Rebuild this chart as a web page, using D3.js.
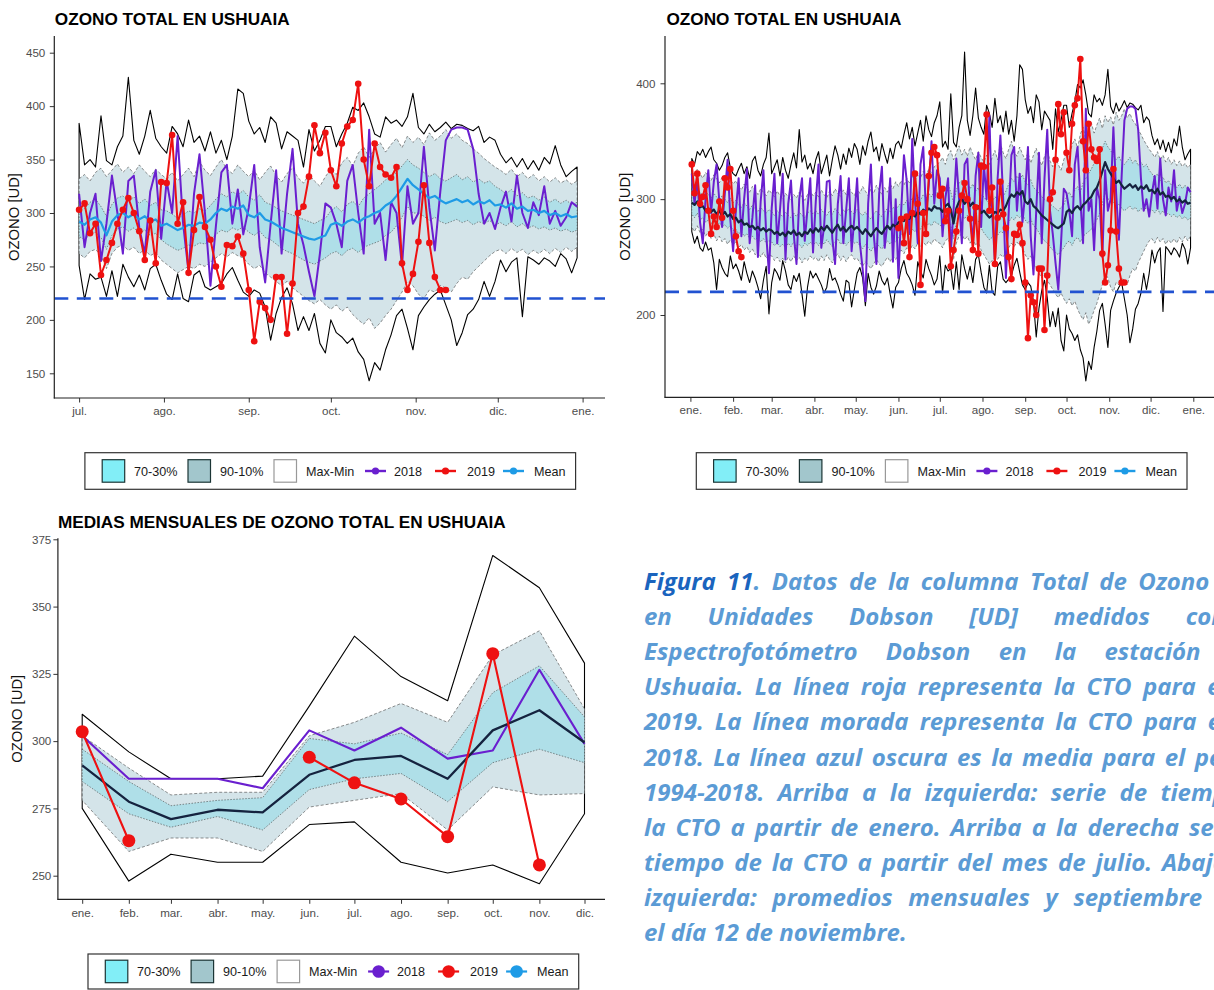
<!DOCTYPE html>
<html>
<head>
<meta charset="utf-8">
<script src="https://cdn.jsdelivr.net/npm/d3@7"></script>
<style>
  html, body { margin: 0; padding: 0; background: #fff; overflow: hidden; }
  svg { display: block; }
</style>
</head>
<body>
<svg id="fig" width="1214" height="990"></svg>
<script>
// ---------------------------------------------------------------
// Total ozone column at Ushuaia, Dobson units.
// Daily series: one value every second day (Jan 2, Jan 4, ... Dec 30).
// ---------------------------------------------------------------
const dailyMax = [
  335, 330, 341, 338, 343, 336, 341, 345, 334, 331, 325, 329, 336, 340, 327,
  322, 320, 326, 331, 322, 328, 318, 333, 337, 325, 320, 330, 336, 357,
  322, 328, 334, 320, 336, 325, 318, 330, 340, 327, 360, 332, 338, 326, 331, 322,
  334, 341, 322, 330, 338, 320, 334, 346, 338, 326, 339, 330, 344, 336, 348,
  343, 330, 346, 338, 350, 358, 341, 345, 333, 348, 339, 331, 344, 335, 347,
  350, 344, 356, 366, 352, 362, 346, 357, 368, 350, 372, 360, 354, 366, 372,
  384, 345, 350, 343, 391, 349, 345, 362, 372, 427, 368, 355, 372, 396, 370, 362,
  356, 381, 374, 362, 387, 366, 372, 358, 376, 356, 368, 350, 372, 416, 412,
  386, 374, 380, 366, 390, 384, 360, 376, 372, 368, 343, 378, 358, 368, 381,
  381, 362, 374, 384, 399, 396, 403, 390, 374, 371, 390, 384, 387, 381, 390, 412,
  380, 374, 383, 376, 380, 385, 379, 383, 382, 379, 377, 381, 366, 371, 368,
  355, 347, 352, 343, 351, 341, 349, 340, 352, 346, 363, 345, 334, 339, 343
];
const dailyP90 = [
  324, 320, 326, 322, 318, 323, 320, 316, 321, 318, 314, 319, 316, 312, 317,
  313, 316, 311, 308, 313, 310, 306, 311, 308, 304, 309, 306, 303, 308,
  305, 302, 307, 303, 300, 305, 302, 299, 304, 301, 306, 302, 299, 304, 307, 303,
  306, 302, 308, 304, 301, 307, 303, 309, 305, 302, 308, 304, 310, 306, 303,
  309, 305, 311, 307, 303, 309, 305, 312, 308, 304, 310, 306, 313, 309, 315,
  311, 316, 312, 318, 314, 320, 316, 322, 318, 324, 320, 326, 322, 328, 330,
  332, 336, 330, 338, 342, 334, 340, 346, 338, 343, 337, 345, 339, 334, 341, 336,
  332, 338, 330, 336, 342, 334, 348, 340, 335, 343, 350, 341, 337, 345, 339,
  334, 340, 331, 338, 344, 335, 329, 337, 342, 333, 328, 336, 330, 325, 334,
  341, 336, 347, 352, 344, 356, 362, 352, 360, 366, 357, 364, 370, 361, 372, 366,
  371, 364, 375, 368, 372, 378, 370, 374, 368, 365, 360, 356, 351, 347, 343,
  340, 336, 341, 334, 338, 332, 336, 330, 334, 329, 333, 328, 331, 327, 330
];
const dailyP70 = [
  308, 305, 309, 306, 303, 307, 304, 301, 305, 302, 299, 303, 300, 297, 301,
  297, 299, 295, 293, 297, 294, 291, 295, 292, 289, 293, 290, 288, 291,
  289, 286, 290, 287, 285, 289, 286, 284, 288, 285, 289, 286, 284, 288, 290, 287,
  290, 287, 291, 288, 286, 290, 287, 292, 289, 286, 291, 288, 292, 289, 287,
  291, 288, 286, 289, 285, 283, 287, 290, 287, 285, 289, 292, 289, 293, 291,
  294, 297, 295, 299, 296, 301, 298, 302, 299, 304, 301, 305, 302, 307, 305,
  308, 304, 310, 313, 306, 297, 308, 314, 316, 311, 315, 309, 313, 307, 310, 303,
  302, 299, 295, 298, 302, 300, 304, 302, 307, 313, 318, 315, 320, 317, 321,
  315, 312, 317, 310, 308, 305, 302, 300, 298, 296, 294, 292, 290, 293, 295,
  302, 306, 301, 308, 311, 306, 314, 318, 322, 326, 331, 334, 338, 344, 350, 345,
  342, 338, 334, 337, 332, 330, 333, 336, 331, 334, 329, 332, 328, 330, 325,
  322, 318, 322, 316, 319, 314, 316, 312, 315, 310, 313, 309, 312, 308, 310
];
const dailyMean = [
  297, 295, 298, 293, 294, 290, 292, 289, 291, 287, 290, 286, 289, 285, 287,
  283, 284, 280, 282, 278, 279, 276, 277, 274, 276, 273, 275, 272, 274,
  273, 270, 272, 269, 271, 268, 272, 270, 273, 269, 271, 268, 272, 270, 274, 271,
  275, 272, 276, 273, 277, 274, 271, 275, 278, 273, 276, 272, 275, 277, 274,
  276, 273, 270, 274, 271, 268, 272, 275, 272, 270, 274, 277, 274, 278, 276,
  280, 283, 281, 285, 283, 287, 285, 289, 287, 291, 289, 292, 290, 294, 292,
  292, 289, 294, 296, 291, 279, 292, 298, 300, 296, 299, 294, 297, 292, 294, 288,
  290, 287, 284, 286, 289, 288, 291, 290, 294, 300, 304, 302, 306, 304, 307,
  298, 296, 300, 294, 292, 289, 286, 284, 282, 280, 278, 276, 275, 277, 279,
  289, 291, 288, 292, 294, 291, 295, 297, 300, 302, 307, 310, 316, 324, 332, 326,
  322, 318, 314, 316, 312, 309, 311, 313, 310, 312, 308, 311, 309, 312, 307,
  308, 305, 309, 304, 306, 302, 303, 300, 302, 298, 300, 297, 299, 296, 297
];
const dailyP30 = [
  287, 284, 288, 282, 284, 280, 282, 279, 281, 277, 280, 276, 278, 275, 277,
  273, 274, 270, 272, 268, 270, 266, 268, 265, 267, 263, 266, 262, 264,
  263, 260, 262, 259, 261, 258, 262, 259, 263, 259, 261, 258, 262, 260, 263, 260,
  263, 260, 264, 261, 265, 262, 259, 263, 266, 261, 264, 260, 263, 265, 262,
  263, 260, 257, 261, 258, 255, 259, 262, 259, 257, 261, 264, 261, 265, 263,
  267, 270, 268, 272, 270, 274, 272, 276, 274, 278, 276, 279, 277, 281, 279,
  278, 275, 280, 282, 277, 266, 279, 285, 287, 283, 286, 281, 284, 279, 281, 275,
  271, 268, 265, 267, 270, 269, 272, 271, 275, 280, 284, 282, 286, 284, 287,
  282, 279, 283, 277, 275, 271, 267, 264, 262, 259, 256, 254, 252, 255, 258,
  262, 264, 260, 265, 267, 263, 268, 270, 272, 274, 279, 282, 288, 296, 306, 300,
  300, 297, 293, 296, 292, 290, 292, 294, 291, 293, 289, 292, 290, 293, 289,
  291, 288, 292, 287, 290, 286, 288, 285, 287, 284, 286, 283, 285, 282, 284
];
const dailyP10 = [
  276, 272, 277, 271, 274, 268, 272, 266, 270, 264, 268, 263, 266, 261, 265,
  261, 263, 258, 261, 256, 259, 254, 257, 252, 255, 250, 254, 249, 252,
  251, 247, 250, 246, 249, 245, 250, 246, 251, 247, 250, 245, 249, 247, 251, 248,
  250, 246, 251, 247, 252, 248, 245, 250, 253, 247, 251, 246, 250, 252, 248,
  249, 245, 242, 246, 243, 240, 244, 248, 244, 242, 246, 250, 246, 251, 248,
  252, 256, 253, 258, 255, 260, 257, 262, 259, 263, 260, 264, 261, 266, 263,
  262, 258, 264, 266, 260, 248, 262, 268, 270, 265, 268, 262, 266, 260, 263, 256,
  252, 248, 244, 247, 250, 248, 252, 250, 254, 258, 262, 259, 263, 260, 258,
  252, 248, 251, 244, 240, 236, 232, 236, 230, 226, 222, 218, 215, 219, 214,
  210, 214, 208, 212, 205, 200, 196, 202, 192, 197, 204, 210, 218, 226, 236, 232,
  224, 220, 228, 226, 232, 230, 226, 234, 240, 238, 245, 250, 255, 260, 264,
  266, 262, 267, 263, 266, 261, 265, 262, 266, 262, 267, 263, 268, 264, 268
];
const dailyMin = [
  272, 262, 268, 258, 255, 263, 256, 258, 245, 222, 248, 241, 236, 233, 251,
  240, 244, 238, 230, 246, 236, 228, 238, 232, 224, 214, 230, 242, 201,
  228, 240, 236, 230, 247, 238, 226, 222, 234, 229, 236, 218, 199, 224, 238, 232,
  236, 231, 226, 219, 224, 240, 230, 232, 226, 218, 212, 230, 228, 207, 222,
  236, 241, 232, 208, 236, 224, 218, 225, 238, 230, 226, 232, 218, 206, 224,
  228, 240, 247, 236, 232, 226, 217, 246, 238, 232, 248, 240, 234, 226, 231,
  251, 219, 243, 238, 240, 222, 246, 222, 252, 240, 231, 242, 228, 248, 252, 237,
  224, 219, 243, 220, 217, 242, 246, 231, 228, 231, 234, 243, 249, 237, 226,
  222, 228, 225, 212, 181, 206, 221, 230, 215, 190, 203, 190, 206, 178, 169,
  200, 188, 184, 178, 183, 170, 163, 143, 160, 153, 172, 186, 204, 210, 192, 172,
  204, 212, 219, 224, 228, 214, 200, 176, 188, 205, 210, 219, 236, 222, 236,
  256, 245, 254, 258, 203, 259, 256, 252, 258, 255, 250, 262, 257, 244, 258
];
const daily2018 = [
  322, 296, 318, 280, 262, 300, 325, 288, 315, 330, 298, 276, 305, 334, 282,
  255, 290, 318, 268, 300, 326, 262, 284, 312, 250, 298, 325, 270, 236,
  292, 322, 262, 290, 322, 248, 296, 316, 270, 244, 300, 318, 264, 292, 318, 254,
  298, 330, 258, 276, 315, 316, 266, 244, 296, 320, 262, 290, 318, 255, 284,
  318, 262, 240, 212, 296, 330, 270, 244, 305, 328, 258, 280, 318, 246, 300,
  232, 290, 338, 316, 270, 352, 300, 262, 330, 345, 288, 312, 350, 296, 325,
  318, 268, 300, 318, 255, 290, 335, 300, 262, 330, 335, 286, 262, 320, 340, 276,
  330, 300, 372, 290, 245, 318, 355, 300, 232, 288, 338, 345, 290, 322, 280,
  305, 345, 268, 235, 290, 340, 262, 318, 360, 290, 270, 245, 222, 262, 309,
  305, 290, 268, 330, 345, 300, 262, 378, 290, 300, 256, 310, 300, 250, 325, 290,
  300, 362, 305, 265, 320, 368, 378, 380, 380, 378, 360, 318, 290, 300, 285,
  305, 320, 292, 335, 300, 286, 310, 298, 325, 290, 302, 288, 296, 310, 306
];
const daily2019 = [
  330, 305, 322, 296, 302, 312, 290, 270, 285, 276, 298, 284, 318, 310, 326,
  290, 268, 255, 250, null, null, null, null, null, null, null, null, null, null,
  null, null, null, null, null, null, null, null, null, null, null, null, null, null, null, null,
  null, null, null, null, null, null, null, null, null, null, null, null, null, null, null,
  null, null, null, null, null, null, null, null, null, null, null, null, null, null, null,
  275, 283, 262, 285, 250, 288, 322, 296, 226, 288, 270, 320, 340, 345, 338,
  303, 309, 281, 290, 242, 256, 272, 290, 303, 314, 300, 283, 256, 293, 253, 329,
  328, 373, 290, 310, 244, 284, 315, 287, 275, 250, 231, 270, 269, 278, 262,
  228, 180, 217, 211, 200, 240, 240, 187, 234, 300, 306, 334, 382, 356, 375,
  340, 325, 365, 381, 387, 421, 350, 325, 365, 343, 336, 333, 343, 253, 228, 243,
  273, 326, 272, 240, 228, 228, null, null, null, null, null, null, null, null, null,
  null, null, null, null, null, null, null, null, null, null, null, null, null, null, null
];

// Monthly means (first day of each month on the axis)
const monthlyMax  = [310, 296, 286, 286, 287, 313, 339, 324, 315, 369, 357, 329];
const monthlyP90  = [302, 290, 280, 281, 281, 302, 307, 314, 307, 332, 341, 312];
const monthlyP70  = [297, 285, 276, 278, 279, 301, 299, 303, 295, 318, 328, 309];
const monthlyMean = [291, 277.5, 271, 274.5, 273.5, 287.5, 293, 294.5, 286, 304, 311.5, 299.5];
const monthlyP30  = [285, 273, 268, 272, 267, 282, 286, 288, 277.5, 292, 297, 292];
const monthlyP10  = [278, 259, 264, 264, 259, 275.5, 278, 280.5, 267, 283, 280, 280.5];
const monthlyMin  = [275, 248, 258, 255, 255, 269, 270, 255, 251, 254, 247, 273];
const monthly2018 = [302, 286, 286, 286, 282.5, 304, 296.5, 305, 293.5, 296.5, 326.5, 299];
const monthly2019 = [303.5, 263, null, null, null, 294, 284.5, 278.5, 264.5, 332.5, 254, null];

// Axis labels and thresholds
const monthLabels = ["ene.", "feb.", "mar.", "abr.", "may.", "jun.", "jul.", "ago.", "sep.", "oct.", "nov.", "dic."];
const ticksA = [150, 200, 250, 300, 350, 400, 450];
const ticksB = [200, 300, 400];
const ticksC = [250, 275, 300, 325, 350, 375];
const threshold = 220;
const legendLabels = ["70-30%", "90-10%", "Max-Min", "2018", "2019", "Mean"];
const panelTitle = "OZONO TOTAL EN USHUAIA";
const monthlyTitle = "MEDIAS MENSUALES DE OZONO TOTAL EN USHUAIA";
const yTitle = "OZONO [UD]";

const captionLines = [
  "Figura 11. Datos de la columna Total de Ozono (CTO)",
  "en Unidades Dobson [UD] medidos con el",
  "Espectrofotómetro Dobson en la estación GAW",
  "Ushuaia. La línea roja representa la CTO para el año",
  "2019. La línea morada representa la CTO para el año",
  "2018. La línea azul oscura es la media para el período",
  "1994-2018. Arriba a la izquierda: serie de tiempo de",
  "la CTO a partir de enero. Arriba a la derecha serie de",
  "tiempo de la CTO a partir del mes de julio. Abajo a la",
  "izquierda: promedios mensuales y septiembre hasta",
  "el día 12 de noviembre."
];

// ---------------------------------------------------------------
const C = {
  fill70: "#afdfe8", fill90: "#d4e4e9",
  key70: "#82eef7", key90: "#a2c6cc",
  purple: "#6a1fcf", red: "#ee1111",
  meanLight: "#1e9be6", meanDark: "#15233f",
  dash: "#2152d1", axis: "#222", tickText: "#4d4d4d"
};
const FONT = "'Liberation Sans', Arial, Helvetica, sans-serif";

const svg = d3.select("#fig");
svg.append("rect").attr("width", 1214).attr("height", 990).attr("fill", "#fff");

const days = dailyMax.map((_, i) => new Date(2019, 0, 2 + 2 * i));
const dailyRows = days.map((date, i) => ({
  date, max: dailyMax[i], p90: dailyP90[i], p70: dailyP70[i], mean: dailyMean[i],
  p30: dailyP30[i], p10: dailyP10[i], min: dailyMin[i], y18: daily2018[i], y19: daily2019[i]
}));
const months = monthLabels.map((_, m) => new Date(2019, m, 1));
const monthlyRows = months.map((date, i) => ({
  date, max: monthlyMax[i], p90: monthlyP90[i], p70: monthlyP70[i], mean: monthlyMean[i],
  p30: monthlyP30[i], p10: monthlyP10[i], min: monthlyMin[i], y18: monthly2018[i], y19: monthly2019[i]
}));

function drawBands(g, rows, x, y) {
  const band = (lo, hi) => d3.area().x(d => x(d.date)).y0(d => y(d[lo])).y1(d => y(d[hi]));
  g.append("path").attr("d", band("min", "max")(rows))
    .attr("fill", "#fff").attr("stroke", "#000").attr("stroke-width", 1.1).attr("stroke-linejoin", "round");
  g.append("path").attr("d", band("p10", "p90")(rows))
    .attr("fill", C.fill90).attr("stroke", "#444").attr("stroke-width", 0.6).attr("stroke-dasharray", "3 2");
  g.append("path").attr("d", band("p30", "p70")(rows))
    .attr("fill", C.fill70).attr("stroke", "#444").attr("stroke-width", 0.6).attr("stroke-dasharray", "1.5 1.5");
}

function drawSeries(g, rows, x, y, meanColor, dotR, lw) {
  const line = key => d3.line().defined(d => d[key] != null).x(d => x(d.date)).y(d => y(d[key]));
  g.append("path").attr("d", line("y18")(rows)).attr("fill", "none")
    .attr("stroke", C.purple).attr("stroke-width", lw).attr("stroke-linejoin", "round");
  g.append("path").attr("d", line("mean")(rows)).attr("fill", "none")
    .attr("stroke", meanColor).attr("stroke-width", lw + 0.2).attr("stroke-linejoin", "round");
  g.append("path").attr("d", line("y19")(rows)).attr("fill", "none")
    .attr("stroke", C.red).attr("stroke-width", lw).attr("stroke-linejoin", "round");
  g.selectAll("circle.y19").data(rows.filter(d => d.y19 != null)).join("circle")
    .attr("class", "y19").attr("cx", d => x(d.date)).attr("cy", d => y(d.y19))
    .attr("r", dotR).attr("fill", C.red);
}

function drawAxes(g, x, y, p, yTicks, xTicks, xLabels) {
  const ya = g.append("g").attr("transform", `translate(${p.left},0)`)
    .call(d3.axisLeft(y).tickValues(yTicks).tickFormat(d3.format("d")).tickSize(4.5).tickPadding(p.yPad));
  const xa = g.append("g").attr("transform", `translate(0,${p.bottom})`)
    .call(d3.axisBottom(x).tickValues(xTicks).tickFormat((d, i) => xLabels[i]).tickSize(4.5).tickPadding(p.xPad));
  [ya, xa].forEach(a => {
    a.select(".domain").remove();
    a.selectAll(".tick line").attr("stroke", "#333").attr("stroke-width", 1);
    a.selectAll(".tick text").attr("fill", C.tickText).attr("font-size", 11.6).attr("font-family", FONT);
  });
  g.append("line").attr("x1", p.left).attr("x2", p.left).attr("y1", p.top).attr("y2", p.bottom + 0.5)
    .attr("stroke", C.axis).attr("stroke-width", 1.2);
  g.append("line").attr("x1", p.left - 0.5).attr("x2", p.right).attr("y1", p.bottom).attr("y2", p.bottom)
    .attr("stroke", C.axis).attr("stroke-width", 1.2);
  g.append("text").attr("transform", `translate(${p.yTitleX},${(p.top + p.bottom) / 2}) rotate(-90)`)
    .attr("text-anchor", "middle").attr("dy", "0.36em").attr("font-family", FONT)
    .attr("font-size", 14.8).attr("fill", "#111").text(yTitle);
  g.append("text").attr("x", p.titleX).attr("y", p.titleY).attr("font-family", FONT)
    .attr("font-size", 17.2).attr("font-weight", "bold").attr("fill", "#000").text(p.title);
}

function drawLegend(g, x0, y0, h, big) {
  g.append("rect").attr("x", x0).attr("y", y0).attr("width", 490.7).attr("height", h)
    .attr("fill", "#fff").attr("stroke", "#333").attr("stroke-width", 1.2);
  const cy = y0 + h / 2;
  const sw = [[17.3, C.key70, "#1b3535"], [103.1, C.key90, "#1b3535"], [189.1, "#fff", "#999"]];
  sw.forEach(([dx, f, s]) => g.append("rect").attr("x", x0 + dx).attr("y", cy - 11.3)
    .attr("width", 22.5).attr("height", 22.5).attr("fill", f).attr("stroke", s).attr("stroke-width", 1.2));
  const sym = [[280.1, C.purple], [350.1, C.red], [418.1, C.meanLight]];
  sym.forEach(([dx, col]) => {
    g.append("line").attr("x1", x0 + dx).attr("x2", x0 + dx + 21).attr("y1", cy).attr("y2", cy)
      .attr("stroke", col).attr("stroke-width", big ? 2.2 : 2.4);
    g.append("circle").attr("cx", x0 + dx + 10.5).attr("cy", cy).attr("r", big ? 6.3 : 3.6).attr("fill", col);
  });
  const tx = [49.1, 135.1, 221.1, 309.1, 382.1, 449.1];
  legendLabels.forEach((t, i) => g.append("text").attr("x", x0 + tx[i]).attr("y", cy).attr("dy", "0.36em")
    .attr("font-family", FONT).attr("font-size", 12.6).attr("fill", "#1a1a1a").text(t));
}

// ---------- Panel A: July to January ----------
{
  const p = { left: 54.3, right: 605, top: 36, bottom: 398, yPad: 4.5, xPad: 4.3,
              yTitleX: 14, titleX: 54.8, titleY: 25, title: panelTitle };
  const x = d3.scaleTime().domain([new Date(2019, 6, 1), new Date(2020, 0, 1)]).range([79.1, 582.6]);
  const y = d3.scaleLinear().domain([150, 450]).range([373.3, 52.7]);
  const rows = dailyRows.filter(d => d.date >= new Date(2019, 6, 1));
  const g = svg.append("g");
  const clipId = "clipA";
  g.append("clipPath").attr("id", clipId).append("rect")
    .attr("x", p.left).attr("y", p.top).attr("width", p.right - p.left).attr("height", p.bottom - p.top);
  const plot = g.append("g").attr("clip-path", `url(#${clipId})`);
  drawBands(plot, rows, x, y);
  drawSeries(plot, rows, x, y, C.meanLight, 3.3, 2);
  plot.append("line").attr("x1", p.left).attr("x2", p.right).attr("y1", y(threshold)).attr("y2", y(threshold))
    .attr("stroke", C.dash).attr("stroke-width", 2.6).attr("stroke-dasharray", "14 8.5");
  const xt = d3.range(6, 13).map(m => new Date(2019, m, 1));
  const xl = xt.map(d => monthLabels[d.getMonth()]);
  drawAxes(g, x, y, p, ticksA, xt, xl);
  drawLegend(g, 84.9, 452.7, 36.6, false);
}

// ---------- Panel B: January to January ----------
{
  const p = { left: 665, right: 1214, top: 36, bottom: 397.3, yPad: 5, xPad: 4.3,
              yTitleX: 624.4, titleX: 666.4, titleY: 25, title: panelTitle };
  const x = d3.scaleTime().domain([new Date(2019, 0, 1), new Date(2020, 0, 1)]).range([690.4, 1193.3]);
  const y = d3.scaleLinear().domain([200, 400]).range([315, 83.3]);
  const g = svg.append("g");
  g.append("clipPath").attr("id", "clipB").append("rect")
    .attr("x", p.left).attr("y", p.top).attr("width", p.right - p.left).attr("height", p.bottom - p.top);
  const plot = g.append("g").attr("clip-path", "url(#clipB)");
  drawBands(plot, dailyRows, x, y);
  drawSeries(plot, dailyRows, x, y, C.meanDark, 3.3, 2);
  plot.append("line").attr("x1", p.left).attr("x2", p.right).attr("y1", y(threshold)).attr("y2", y(threshold))
    .attr("stroke", C.dash).attr("stroke-width", 2.6).attr("stroke-dasharray", "14 8.5");
  const xt = d3.range(0, 13).map(m => new Date(2019, m, 1));
  const xl = xt.map(d => monthLabels[d.getMonth()]);
  drawAxes(g, x, y, p, ticksB, xt, xl);
  drawLegend(g, 696.3, 452.7, 36.6, false);
}

// ---------- Panel C: monthly means ----------
{
  const p = { left: 57.9, right: 605, top: 538.3, bottom: 899.3, yPad: 2.1, xPad: 5.3,
              yTitleX: 16.3, titleX: 57.9, titleY: 527.7, title: monthlyTitle };
  const x = d3.scaleTime().domain([months[0], months[11]]).range([82.2, 584.5]);
  const y = d3.scaleLinear().domain([250, 375]).range([875.7, 539.3]);
  const g = svg.append("g");
  g.append("clipPath").attr("id", "clipC").append("rect")
    .attr("x", p.left).attr("y", p.top - 8).attr("width", p.right - p.left).attr("height", p.bottom - p.top + 8);
  const plot = g.append("g").attr("clip-path", "url(#clipC)");
  drawBands(plot, monthlyRows, x, y);
  drawSeries(plot, monthlyRows, x, y, C.meanDark, 6.5, 2.1);
  drawAxes(g, x, y, p, ticksC, months, monthLabels);
  drawLegend(g, 88, 954, 35, true);
}

// ---------- Caption (justified block, right side) ----------
{
  const g = svg.append("g").attr("font-family", "'Open Sans', 'Noto Sans', sans-serif")
    .attr("font-style", "italic").attr("font-weight", 700);
  const probe = g.append("text").attr("font-size", 22).text("Espectrofotómetro");
  const fs = Math.max(18, Math.min(24, 22 * 226 / probe.node().getComputedTextLength()));
  probe.remove();
  const x0 = 644, right = 1282, base = 590, step = 35.1;
  const light = "#5b9bd5", dark = "#1a64be";
  const measure = str => {
    const t = g.append("text").attr("font-size", fs).text(str);
    const w = t.node().getComputedTextLength(); t.remove(); return w;
  };
  const spaceW = measure("a b") - measure("ab");
  captionLines.forEach((line, li) => {
    const words = line.split(" ");
    const widths = words.map(measure);
    const total = d3.sum(widths);
    const last = li === captionLines.length - 1;
    const gap = last ? spaceW : (right - x0 - total) / (words.length - 1);
    let cx = x0;
    words.forEach((w, wi) => {
      const t = g.append("text").attr("x", cx).attr("y", base + li * step).attr("font-size", fs).attr("fill", light);
      if (li === 0 && wi === 0) t.attr("fill", dark).text(w);
      else if (li === 0 && wi === 1) {
        t.append("tspan").attr("fill", dark).text(w.replace(".", ""));
        t.append("tspan").attr("fill", light).text(".");
      } else t.text(w);
      cx += widths[wi] + gap;
    });
  });
}
</script>
</body>
</html>
